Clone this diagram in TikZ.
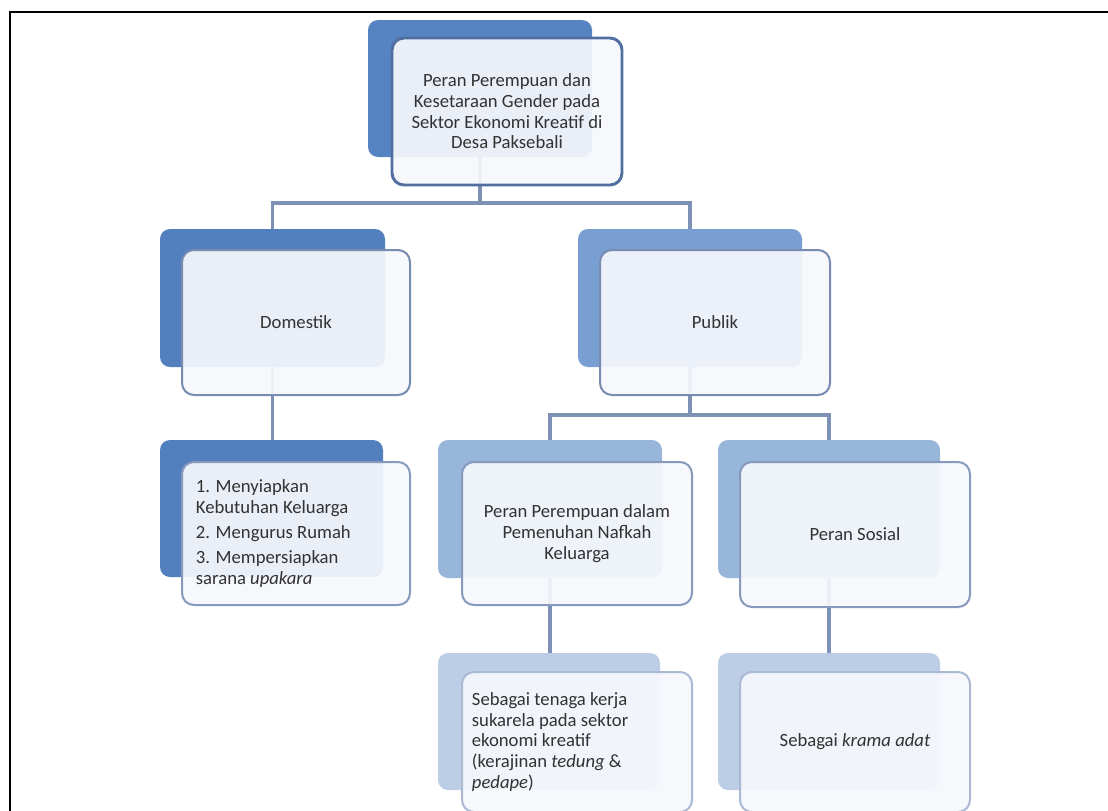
\documentclass[tikz,border=0pt]{standalone}
\usepackage{fontspec}
\setmainfont{Carlito}
\usetikzlibrary{fit}
\definecolor{c0}{RGB}{86,131,193}
\definecolor{c1a}{RGB}{82,128,190}
\definecolor{c1b}{RGB}{120,158,210}
\definecolor{c2}{RGB}{152,181,218}
\definecolor{c3}{RGB}{187,206,230}
\definecolor{b0}{RGB}{80,110,160}
\definecolor{b1}{RGB}{120,140,178}
\definecolor{b2}{RGB}{135,153,188}
\definecolor{b3}{RGB}{170,185,212}
\definecolor{frontfill}{RGB}{246,248,252}
\definecolor{conncol}{RGB}{125,145,180}
\definecolor{txt}{RGB}{50,50,50}
\begin{document}
\begin{tikzpicture}[x=0.75pt,y=-0.75pt,
  back/.style={rounded corners=7.5pt, inner sep=0pt, draw=none},
  front/.style={rounded corners=9pt, inner sep=0pt, fill=frontfill, fill opacity=0.92, text opacity=1, line width=1.5pt},
  label/.style={inner sep=0pt, font=\fontsize{14}{15.5}\selectfont, text=txt},
  conn/.style={draw=conncol, line width=2.3pt}]
\useasboundingbox (0,0) rectangle (1108,811);
\fill[white] (0,0) rectangle (1108,811);
\draw[line width=1.5pt] (10,811) -- (10,12) -- (1108,12);
% back boxes
\node[back, fill=c0, fit={(368,20) (592,157)}] (rootB) {};
\node[back, fill=c1a, fit={(160,229) (385,367)}] (domB) {};
\node[back, fill=c1b, fit={(578,229) (802,367)}] (pubB) {};
\node[back, fill=c1a, fit={(160,440) (383,577)}] (listB) {};
\node[back, fill=c2, fit={(438,440) (662,578)}] (ppB) {};
\node[back, fill=c2, fit={(718,440) (940,578)}] (psB) {};
\node[back, fill=c3, fit={(438,653) (660,790)}] (stB) {};
\node[back, fill=c3, fit={(718,653) (940,790)}] (kaB) {};
% junctions
\coordinate (j1) at (480,203);
\coordinate (j2) at (690,415);
% connectors
\draw[conn] (rootB.south) -- (rootB.south |- j1);
\draw[conn] (domB.north) |- (pubB.north |- j1) -- (pubB.north);
\draw[conn] (domB.south) -- (domB.south |- listB.north);
\draw[conn] (pubB.south) -- (pubB.south |- j2);
\draw[conn] (ppB.north) |- (psB.north |- j2) -- (psB.north);
\draw[conn] (ppB.south) -- (ppB.south |- stB.north);
\draw[conn] (psB.south) -- (psB.south |- kaB.north);
% front boxes
\node[front, draw=b0, line width=2.2pt, fit={(392,38) (622,185)}] (root) {};
\node[front, draw=b1, fit={(182,250) (410,395)}] (dom) {};
\node[front, draw=b1, fit={(600,250) (830,395)}] (pub) {};
\node[front, draw=b2, fit={(182,462) (410,605)}] (list) {};
\node[front, draw=b2, fit={(462,462) (692,605)}] (pp) {};
\node[front, draw=b2, fit={(740,462) (970,607)}] (ps) {};
\node[front, draw=b3, fit={(462,672) (692,812)}] (st) {};
\node[front, draw=b3, fit={(740,672) (970,812)}] (ka) {};
% texts
\node[label, align=center] (rootT) at (root.center) {Peran Perempuan dan\\Kesetaraan Gender pada\\Sektor Ekonomi Kreatif di\\Desa Paksebali};
\node[label] (domT) at (dom.center) {Domestik};
\node[label] (pubT) at (pub.center) {Publik};
\node[label, align=left, anchor=west] (listT) at ([xshift=11]list.west) {1. Menyiapkan\\Kebutuhan Keluarga\\[3.5pt]2. Mengurus Rumah\\[3.5pt]3. Mempersiapkan\\sarana \textit{upakara}};
\node[label, align=center] (ppT) at (pp.center) {Peran Perempuan dalam\\Pemenuhan Nafkah\\Keluarga};
\node[label] (psT) at (ps.center) {Peran Sosial};
\node[label, align=left, anchor=west] (stT) at ([xshift=8]st.west) {Sebagai tenaga kerja\\sukarela pada sektor\\ekonomi kreatif\\(kerajinan \textit{tedung} \&\\\textit{pedape})};
\node[label] (kaT) at (ka.center) {Sebagai \textit{krama adat}};
\end{tikzpicture}
\end{document}
